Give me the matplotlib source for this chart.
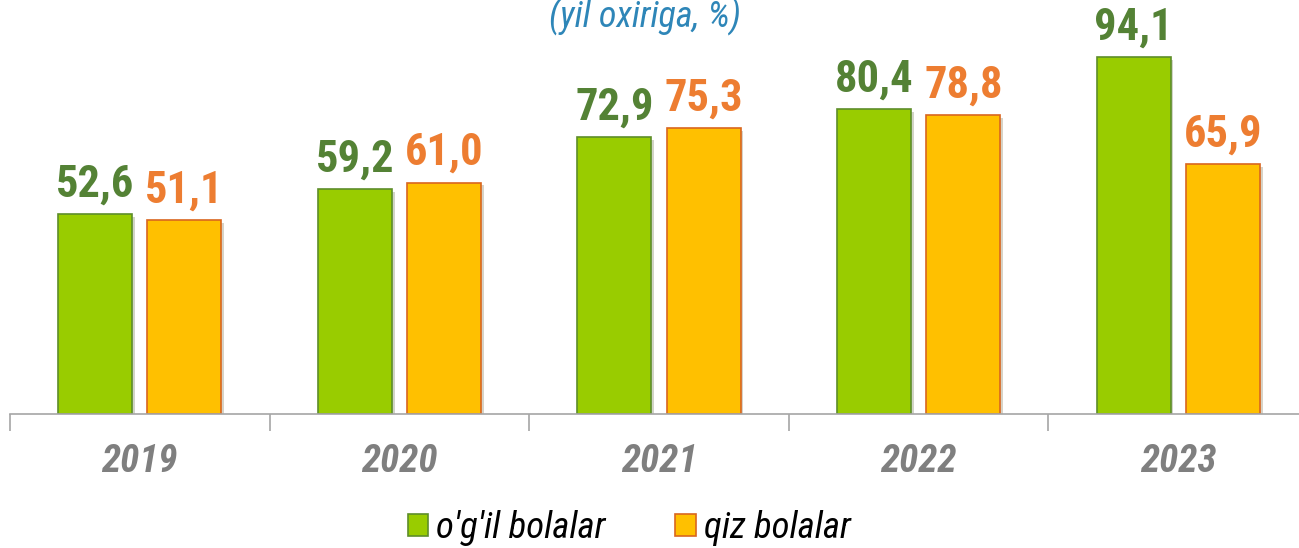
import matplotlib
matplotlib.use("Agg")
import matplotlib.pyplot as plt
from matplotlib import font_manager
import numpy as np
import matplotlib.patheffects as pe

years = ["2019", "2020", "2021", "2022", "2023"]
boys = [52.6, 59.2, 72.9, 80.4, 94.1]
girls = [51.1, 61.0, 75.3, 78.8, 65.9]
series_names = ["o'g'il bolalar", "qiz bolalar"]
title = "(yil oxiriga, %)"

names = {f.name for f in font_manager.fontManager.ttflist}
fam = "Roboto"
condensed = False
for cand in ["Roboto Condensed", "Liberation Sans Narrow", "Open Sans Condensed", "Noto Sans Condensed"]:
    if cand in names:
        fam = cand
        condensed = True
        break
plt.rcParams['font.family'] = [fam, 'DejaVu Sans']

W, H = 1299, 548
fig = plt.figure(figsize=(W/100, H/100), dpi=100)
left_px, right_px = 10, 1308
base_px = 414
ppu = 3.794
ymax = 100
ax = fig.add_axes([left_px/W, (H-base_px)/H, (right_px-left_px)/W, ymax*ppu/H])

x = np.arange(len(years))
bw = 0.285
off = 0.172
green, green_e, green_t = "#99CC00", "#5E8E2A", "#548235"
orange, orange_e, orange_t = "#FFC000", "#D9661F", "#ED7D31"
shadow = [pe.SimplePatchShadow(offset=(2, -2), alpha=0.22), pe.Normal()]
b1 = ax.bar(x - off, boys, bw, color=green, edgecolor=green_e, linewidth=1.2, label=series_names[0])
b2 = ax.bar(x + off, girls, bw, color=orange, edgecolor=orange_e, linewidth=1.2, label=series_names[1])
for b in list(b1) + list(b2):
    b.set_path_effects(shadow)

lab_fs = 32 if condensed else 30
for xi, v in zip(x - off, boys):
    ax.text(xi, v + 2.3, f"{v:.1f}".replace(".", ","), ha="center", va="bottom",
            fontsize=lab_fs, fontweight="bold", color=green_t)
for xi, v in zip(x + off, girls):
    ax.text(xi, v + 2.3, f"{v:.1f}".replace(".", ","), ha="center", va="bottom",
            fontsize=lab_fs, fontweight="bold", color=orange_t)

ax.set_xlim(-0.5, len(years) - 0.5)
ax.set_ylim(0, ymax)
for s in ["top", "right", "left"]:
    ax.spines[s].set_visible(False)
ax.spines["bottom"].set_color("#A6A6A6")
ax.spines["bottom"].set_linewidth(1.2)
ax.set_yticks([])
ax.set_xticks(np.arange(-0.5, len(years), 1.0))
ax.set_xticklabels([])
ax.tick_params(axis="x", length=12, color="#A6A6A6", width=1.2)
ax.set_xticks(x, minor=True)
ax.set_xticklabels(years, minor=True, fontsize=28 if condensed else 25, fontweight="bold",
                   style="italic", color="#7F7F7F")
ax.tick_params(axis="x", which="minor", length=0, pad=21)

fig.text(645/W, 1 - 17/H, title, ha="center", va="center", fontsize=26 if condensed else 23,
         style="italic", color="#2E86B8")

lfs = 26.5 if condensed else 23
leg = fig.legend(handles=[b1, b2], labels=series_names, loc="center", bbox_to_anchor=(629/W, 1 - 528/H),
                 ncol=2, frameon=False, prop={"style": "italic", "size": lfs},
                 handlelength=0.57, handleheight=0.57, handletextpad=0.2, columnspacing=1.9,
                 borderpad=0.2)
for h in leg.legend_handles:
    h.set_path_effects([])

fig.savefig("out.png", dpi=100)
